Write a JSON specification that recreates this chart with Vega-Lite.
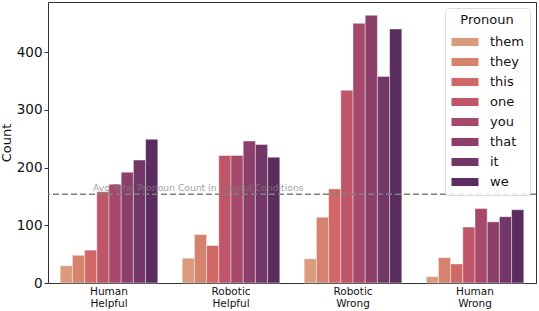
{
  "$schema": "https://vega.github.io/schema/vega-lite/v6.json",
  "width": 488,
  "height": 281,
  "autosize": {"type": "none"},
  "padding": {"left": 48, "top": 2, "right": 3, "bottom": 28},
  "config": {
    "font": "DejaVu Sans",
    "view": {"stroke": "#333333", "strokeWidth": 1}
  },
  "data": {
    "values": [
      {"condition": "Human Helpful", "pronoun": "them", "count": 30},
      {"condition": "Human Helpful", "pronoun": "they", "count": 48},
      {"condition": "Human Helpful", "pronoun": "this", "count": 57},
      {"condition": "Human Helpful", "pronoun": "one", "count": 158},
      {"condition": "Human Helpful", "pronoun": "you", "count": 171},
      {"condition": "Human Helpful", "pronoun": "that", "count": 192},
      {"condition": "Human Helpful", "pronoun": "it", "count": 213},
      {"condition": "Human Helpful", "pronoun": "we", "count": 249},
      {"condition": "Robotic Helpful", "pronoun": "them", "count": 43},
      {"condition": "Robotic Helpful", "pronoun": "they", "count": 84},
      {"condition": "Robotic Helpful", "pronoun": "this", "count": 65},
      {"condition": "Robotic Helpful", "pronoun": "one", "count": 221},
      {"condition": "Robotic Helpful", "pronoun": "you", "count": 221},
      {"condition": "Robotic Helpful", "pronoun": "that", "count": 246},
      {"condition": "Robotic Helpful", "pronoun": "it", "count": 240},
      {"condition": "Robotic Helpful", "pronoun": "we", "count": 218},
      {"condition": "Robotic Wrong", "pronoun": "them", "count": 42},
      {"condition": "Robotic Wrong", "pronoun": "they", "count": 114},
      {"condition": "Robotic Wrong", "pronoun": "this", "count": 163},
      {"condition": "Robotic Wrong", "pronoun": "one", "count": 334},
      {"condition": "Robotic Wrong", "pronoun": "you", "count": 450},
      {"condition": "Robotic Wrong", "pronoun": "that", "count": 464},
      {"condition": "Robotic Wrong", "pronoun": "it", "count": 358},
      {"condition": "Robotic Wrong", "pronoun": "we", "count": 440},
      {"condition": "Human Wrong", "pronoun": "them", "count": 11},
      {"condition": "Human Wrong", "pronoun": "they", "count": 44},
      {"condition": "Human Wrong", "pronoun": "this", "count": 33},
      {"condition": "Human Wrong", "pronoun": "one", "count": 97},
      {"condition": "Human Wrong", "pronoun": "you", "count": 129},
      {"condition": "Human Wrong", "pronoun": "that", "count": 106},
      {"condition": "Human Wrong", "pronoun": "it", "count": 115},
      {"condition": "Human Wrong", "pronoun": "we", "count": 127}
    ]
  },
  "layer": [
    {
      "mark": {"type": "bar", "stroke": "white", "strokeWidth": 0.6, "strokeOpacity": 0.7},
      "encoding": {
        "x": {
          "field": "condition",
          "type": "nominal",
          "scale": {"domain": ["Human Helpful", "Robotic Helpful", "Robotic Wrong", "Human Wrong"], "paddingInner": 0, "paddingOuter": 0},
          "axis": {
            "title": null,
            "labelAngle": 0,
            "labelExpr": "split(datum.label, ' ')",
            "labelFontSize": 10.5,
            "labelLineHeight": 12,
            "labelColor": "#111111",
            "labelPadding": 3,
            "domain": false,
            "ticks": false
          }
        },
        "xOffset": {
          "field": "pronoun",
          "type": "nominal",
          "sort": ["them", "they", "this", "one", "you", "that", "it", "we"],
          "scale": {"paddingInner": 0, "paddingOuter": 1}
        },
        "y": {
          "field": "count",
          "type": "quantitative",
          "scale": {"domain": [0, 487], "nice": false},
          "axis": {
            "title": "Count",
            "titleFontSize": 13,
            "titleFontWeight": "normal",
            "titleColor": "#111111",
            "titlePadding": 3,
            "values": [0, 100, 200, 300, 400],
            "labelFontSize": 13.5,
            "labelColor": "#111111",
            "tickSize": 4,
            "tickColor": "#333333",
            "labelPadding": 2,
            "grid": false,
            "domain": false
          }
        },
        "color": {
          "field": "pronoun",
          "type": "nominal",
          "sort": ["them", "they", "this", "one", "you", "that", "it", "we"],
          "scale": {
            "domain": ["them", "they", "this", "one", "you", "that", "it", "we"],
            "range": ["#d99b7b", "#d6836d", "#cf6867", "#bf5568", "#a6496b", "#8c3f6a", "#723767", "#5a2d5e"]
          },
          "legend": {
            "title": "Pronoun",
            "orient": "top-right",
            "offset": 6,
            "titleFontSize": 13,
            "titleFontWeight": "normal",
            "titleColor": "#111111",
            "titleAnchor": "middle",
            "titlePadding": 8,
            "labelFontSize": 13,
            "labelColor": "#111111",
            "labelOffset": 18,
            "symbolType": "M-2,-0.6H2V0.6H-2Z",
            "symbolSize": 182,
            "symbolOffset": 7,
            "symbolStrokeWidth": 0,
            "rowPadding": 6,
            "padding": 6,
            "strokeColor": "#dddddd",
            "fillColor": "rgba(255,255,255,0.85)",
            "cornerRadius": 3
          }
        }
      }
    },
    {
      "data": {"values": [{}]},
      "mark": {"type": "rule", "color": "gray", "strokeWidth": 1.5, "strokeDash": [6, 3]},
      "encoding": {
        "y": {"datum": 154, "type": "quantitative"}
      }
    },
    {
      "data": {"values": [{}]},
      "mark": {"type": "text", "text": "Avg Total Pronoun Count in Helpful Conditions", "align": "left", "baseline": "alphabetic", "dx": -16, "dy": -3, "fontSize": 9.2, "color": "gray", "opacity": 0.75},
      "encoding": {
        "x": {"datum": "Human Helpful", "type": "nominal"},
        "y": {"datum": 154, "type": "quantitative"}
      }
    }
  ]
}
